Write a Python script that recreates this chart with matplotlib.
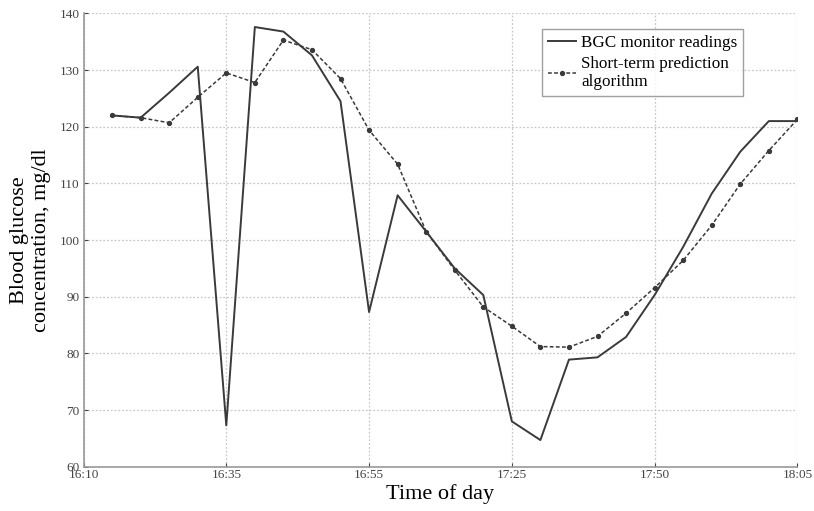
import matplotlib
matplotlib.use("Agg")
import matplotlib.pyplot as plt

plt.rcParams["font.family"] = ["Liberation Serif", "DejaVu Serif"]

sample = list(range(1, 26))
bgc_monitor = [122.0, 121.6, 126.0, 130.6, 67.3, 137.6, 136.8, 132.6, 124.5, 87.3,
               107.9, 101.5, 95.0, 90.3, 68.0, 64.7, 78.9, 79.3, 82.9, 90.3,
               98.8, 108.2, 115.6, 121.0, 121.0]
prediction = [122.0, 121.6, 120.7, 125.2, 129.5, 127.8, 135.3, 133.6, 128.5, 119.4,
              113.4, 101.5, 94.7, 88.2, 84.8, 81.2, 81.1, 83.0, 87.1, 91.6,
              96.4, 102.6, 109.9, 115.8, 121.3]
tick_pos = [0, 5, 10, 15, 20, 25]
tick_labels = ["16:10", "16:35", "16:55", "17:25", "17:50", "18:05"]

fig = plt.figure(figsize=(8.14, 5.11), dpi=100)
ax = fig.add_axes([0.1026, 0.0867, 0.877, 0.887])

ax.plot(sample, bgc_monitor, color="#3a3a3a", lw=1.4, label="BGC monitor readings")
ax.plot(sample, prediction, color="#3a3a3a", lw=1.1, ls=(0, (2.5, 1.5)),
        marker="o", ms=2.8, label="Short-term prediction\nalgorithm")

ax.set_xlim(0, 25)
ax.set_ylim(60, 140)
ax.set_xticks(tick_pos)
ax.set_xticklabels(tick_labels)
ax.set_yticks(range(60, 141, 10))
ax.grid(True, ls=(0, (1.5, 1.5)), color="#c8c8c8", lw=0.9)
ax.tick_params(direction="in", length=3, labelsize=9.5, colors="#444444", pad=2)
ax.tick_params(axis="y", pad=3)
for s in ["top", "right"]:
    ax.spines[s].set_visible(False)
for s in ["left", "bottom"]:
    ax.spines[s].set_color("#999999")
    ax.spines[s].set_linewidth(1.2)

ax.set_xlabel("Time of day", fontsize=16, labelpad=2)
ax.set_ylabel("Blood glucose\nconcentration, mg/dl", fontsize=16, labelpad=6)

leg = ax.legend(loc="upper right", bbox_to_anchor=(0.924, 0.965), fontsize=12.3,
                frameon=True, fancybox=False, handlelength=1.6, handletextpad=0.3,
                borderpad=0.35, labelspacing=0.25, borderaxespad=0)
leg.get_frame().set_edgecolor("#888888")
leg.get_frame().set_linewidth(1.0)

fig.savefig("out.png", dpi=100)
